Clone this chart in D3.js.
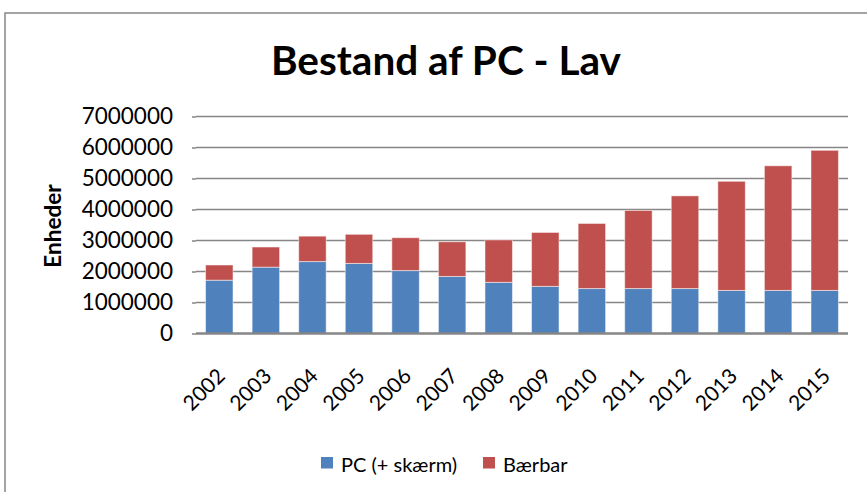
<!DOCTYPE html>
<html>
<head>
<meta charset="utf-8">
<title>Bestand af PC - Lav</title>
<script src="https://d3js.org/d3.v7.min.js"></script>
<style>
  body { margin: 0; background: #fff; }
  text { font-family: Lato, "Open Sans", sans-serif; fill: #000; }
</style>
</head>
<body>
<script>
const width = 867;
const height = 492;

// data (units)
const years = ["2002", "2003", "2004", "2005", "2006", "2007", "2008",
               "2009", "2010", "2011", "2012", "2013", "2014", "2015"];
const pcValues = [1720000, 2140000, 2320000, 2260000, 2030000, 1840000, 1650000,
                  1520000, 1450000, 1450000, 1450000, 1390000, 1390000, 1390000];
const laptopValues = [490000, 650000, 820000, 940000, 1060000, 1120000, 1370000,
                      1740000, 2100000, 2520000, 2990000, 3520000, 4020000, 4520000];
const seriesNames = ["PC (+ skærm)", "Bærbar"];
const seriesColors = ["#4F81BD", "#C0504D"];
const yTicks = [0, 1000000, 2000000, 3000000, 4000000, 5000000, 6000000, 7000000];

const svg = d3.select("body").append("svg")
  .attr("width", width)
  .attr("height", height);

// chart frame
svg.append("rect")
  .attr("x", 5).attr("y", 13)
  .attr("width", 900).attr("height", 520)
  .attr("fill", "none")
  .attr("stroke", "#868686")
  .attr("stroke-width", 1.5);

const x = d3.scaleBand().domain(years).range([196, 848])
  .paddingInner(0.41).paddingOuter(0.205);
const y = d3.scaleLinear().domain([0, 7000000]).range([333.5, 116.5]);

// gridlines
svg.append("g")
  .selectAll("line")
  .data(yTicks.slice(1))
  .join("line")
  .attr("x1", 196).attr("x2", 848)
  .attr("y1", d => y(d)).attr("y2", d => y(d))
  .attr("stroke", "#868686")
  .attr("stroke-width", 1.6);

// stacked bars
const table = years.map((yr, i) => ({ year: yr, pc: pcValues[i], laptop: laptopValues[i] }));
const stack = d3.stack().keys(["pc", "laptop"])(table);

svg.append("g")
  .selectAll("g")
  .data(stack)
  .join("g")
  .attr("fill", (d, i) => seriesColors[i])
  .selectAll("rect")
  .data(d => d)
  .join("rect")
  .attr("x", d => x(d.data.year))
  .attr("y", d => y(d[1]))
  .attr("width", x.bandwidth())
  .attr("height", d => y(d[0]) - y(d[1]))
  .attr("stroke", "#fff")
  .attr("stroke-opacity", 0.5)
  .attr("stroke-width", 1);

// y axis
const yAxis = svg.append("g")
  .attr("transform", "translate(196,0)")
  .call(d3.axisLeft(y).tickValues(yTicks).tickFormat(d3.format("d")).tickSize(4).tickPadding(19));
yAxis.select(".domain").remove();
yAxis.selectAll(".tick line").attr("stroke", "#868686").attr("stroke-width", 1.5);
yAxis.selectAll(".tick text")
  .attr("font-size", 22.5);

// x axis
const xAxis = svg.append("g")
  .attr("transform", "translate(0,333.5)")
  .call(d3.axisBottom(x).tickSize(0).tickPadding(0));
xAxis.select(".domain")
  .attr("d", "M196,0H848")
  .attr("stroke", "#868686")
  .attr("stroke-width", 2.5);
xAxis.selectAll(".tick text")
  .attr("font-size", 21)
  .attr("text-anchor", "end")
  .attr("dy", "0")
  .attr("transform", "translate(7,44) rotate(-45)");

// title
svg.append("text")
  .attr("x", 446).attr("y", 75)
  .attr("text-anchor", "middle")
  .attr("font-size", 40.5)
  .attr("font-weight", "bold")
  .text("Bestand af PC - Lav");

// y axis title
svg.append("text")
  .attr("transform", "translate(61,226) rotate(-90)")
  .attr("text-anchor", "middle")
  .attr("font-size", 22.5)
  .attr("font-weight", "bold")
  .text("Enheder");

// legend
const legend = svg.append("g").attr("transform", "translate(321,457)");
const item = legend.selectAll("g")
  .data(seriesNames)
  .join("g")
  .attr("transform", (d, i) => `translate(${i * 162},0)`);
item.append("rect")
  .attr("width", 12).attr("height", 11.5)
  .attr("fill", (d, i) => seriesColors[i]);
item.append("text")
  .attr("x", 20).attr("y", 15)
  .attr("font-size", 20)
  .text(d => d);
</script>
</body>
</html>
